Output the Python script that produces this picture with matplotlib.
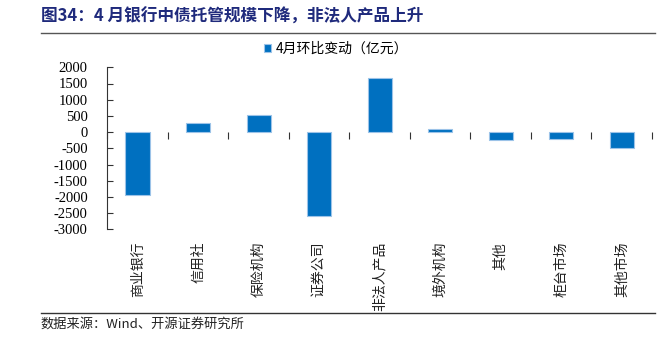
import matplotlib
matplotlib.use("Agg")
import matplotlib.pyplot as plt
from matplotlib.lines import Line2D
import numpy as np

plt.rcParams['font.family'] = ['Noto Sans CJK SC', 'DejaVu Sans']

categories = ["商业银行", "信用社", "保险机构", "证券公司", "非法人产品",
              "境外机构", "其他", "柜台市场", "其他市场"]
values = [-1950, 270, 540, -2580, 1680, 100, -250, -210, -490]
series_name = "4月环比变动（亿元）"
yticks = [2000, 1500, 1000, 500, 0, -500, -1000, -1500, -2000, -2500, -3000]

W, H = 667, 338
fig = plt.figure(figsize=(W / 100, H / 100), dpi=100)
ax = fig.add_axes([107.3 / W, 1 - 229.3 / H, (652 - 107.3) / W, (229.3 - 67.3) / H])

x = np.arange(len(categories))
bars = ax.bar(x, values, width=0.4, color="#0070C0", edgecolor="#9CC3E8",
              linewidth=0.8, label=series_name, zorder=3)

ax.set_xlim(-0.5, len(categories) - 0.5)
ax.set_ylim(-3000, 2000)
ax.set_yticks(yticks)
ax.set_yticklabels([str(v) for v in yticks], family=['Liberation Serif'], fontsize=10.5)
ax.tick_params(axis='y', direction='in', length=4, width=0.8, color='#333333', pad=14)

for s in ['top', 'right', 'bottom']:
    ax.spines[s].set_visible(False)
ax.spines['left'].set_color('#333333')
ax.spines['left'].set_linewidth(0.8)

ax.set_xticks(x)
ax.set_xticklabels(categories, rotation=90, va='top', ha='center', fontsize=10,
                   color='#222222')
ax.tick_params(axis='x', length=0, pad=9)

# zero axis with category boundary ticks
sec = ax.secondary_xaxis(3000 / 5000)
sec.set_xticks(np.arange(len(categories) + 1) - 0.5)
sec.set_xticklabels([])
sec.tick_params(axis='x', direction='in', length=5, width=0.8, color='#333333')
sec.spines['bottom'].set_color('#555555')
sec.spines['bottom'].set_linewidth(1.0)
for s in ['top', 'left', 'right']:
    if s in sec.spines:
        sec.spines[s].set_visible(False)

# legend
fig.legend(handles=[bars], labels=[series_name], loc='center',
           bbox_to_anchor=(336 / W, 1 - 49 / H), frameon=False, fontsize=10,
           handlelength=0.55, handleheight=0.55, handletextpad=0.35)

# title
fig.text(41 / W, 1 - 16.5 / H, "图34：4 月银行中债托管规模下降，非法人产品上升",
         fontsize=12, fontweight='bold', color='#1F2A7C', va='center', ha='left')
fig.add_artist(Line2D([40.7 / W, 655 / W], [1 - 33.3 / H, 1 - 33.3 / H],
                      color='#555555', linewidth=1.0))
fig.add_artist(Line2D([40.7 / W, 655 / W], [1 - 313.3 / H, 1 - 313.3 / H],
                      color='#333333', linewidth=1.0))
fig.text(40.7 / W, 1 - 324 / H, "数据来源：Wind、开源证券研究所", fontsize=9.5,
         color='#222222', va='center', ha='left')

fig.savefig("out.png", dpi=100)
